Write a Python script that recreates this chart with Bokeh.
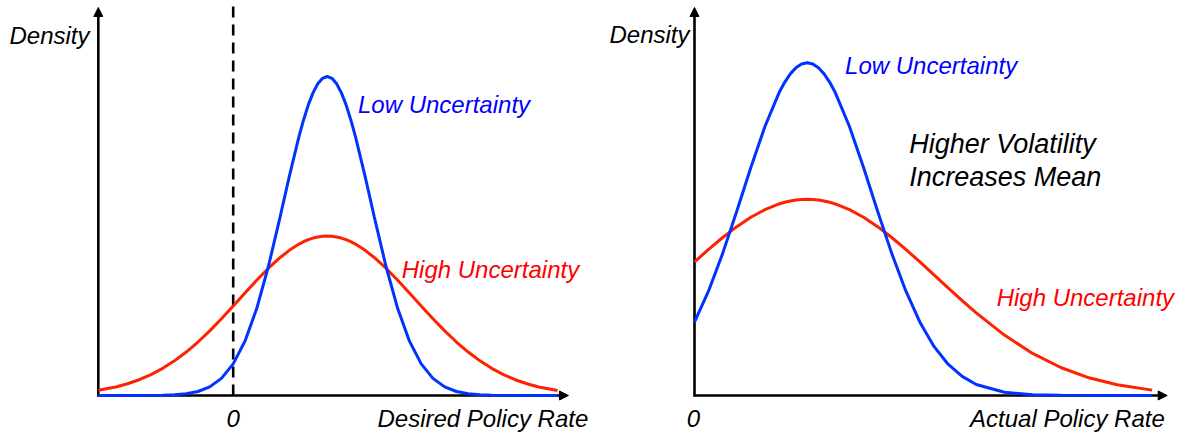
from bokeh.plotting import figure
from bokeh.models import Range1d, Label, Arrow, NormalHead
from bokeh.layouts import row
from bokeh.embed import file_html
from bokeh.resources import INLINE

# ---------------- data ----------------
# Left panel: desired policy rate (0 marked by dashed line)
left_rate = [-2.87, -2.5, -2.25, -2.0, -1.75, -1.5, -1.25, -1.0, -0.75, -0.5, -0.25, 0.0,
             0.25, 0.5, 0.75, 1.0, 1.2, 1.4, 1.5, 1.6, 1.7, 1.8, 1.9, 2.0, 2.1, 2.2, 2.3,
             2.4, 2.5, 2.6, 2.8, 3.0, 3.25, 3.5, 3.75, 4.0, 4.25, 4.5, 4.75, 5.0, 5.25,
             5.5, 5.75, 6.0, 6.25, 6.5, 6.9]
left_low = [0.0000, 0.0000, 0.0000, 0.0001, 0.0003, 0.0008, 0.0022, 0.0055, 0.0126, 0.0270,
            0.0536, 0.0990, 0.1703, 0.2724, 0.4052, 0.5610, 0.6907, 0.8121, 0.8654, 0.9117,
            0.9493, 0.9771, 0.9942, 1.0000, 0.9942, 0.9771, 0.9493, 0.9117, 0.8654, 0.8121,
            0.6907, 0.5610, 0.4052, 0.2724, 0.1703, 0.0990, 0.0536, 0.0270, 0.0126, 0.0055,
            0.0022, 0.0008, 0.0003, 0.0001, 0.0000, 0.0000, 0.0000]
left_high = [0.0162, 0.0268, 0.0368, 0.0495, 0.0655, 0.0852, 0.1086, 0.1362, 0.1676, 0.2026,
             0.2406, 0.2805, 0.3212, 0.3612, 0.3990, 0.4327, 0.4558, 0.4746, 0.4822, 0.4886,
             0.4935, 0.4971, 0.4993, 0.5000, 0.4993, 0.4971, 0.4935, 0.4886, 0.4822, 0.4746,
             0.4558, 0.4327, 0.3990, 0.3612, 0.3212, 0.2805, 0.2406, 0.2026, 0.1676, 0.1362,
             0.1086, 0.0852, 0.0655, 0.0495, 0.0368, 0.0268, 0.0156]
left_axis_start = -2.87
left_axis_end = 7.134
zero_rate = 0.0

# Right panel: actual policy rate (truncated at 0)
right_rate = [0.0, 0.25, 0.5, 0.75, 1.0, 1.25, 1.5, 1.6, 1.7, 1.8, 1.9, 2.0, 2.1, 2.2, 2.3,
              2.4, 2.5, 2.75, 3.0, 3.25, 3.5, 3.75, 4.0, 4.25, 4.5, 4.75, 5.0, 5.5, 6.0, 6.5,
              7.0, 7.5, 8.12]
right_low = [0.2299, 0.3277, 0.4455, 0.5777, 0.7147, 0.8432, 0.9489, 0.9818, 1.0082, 1.0273,
             1.0391, 1.0430, 1.0391, 1.0273, 1.0082, 0.9818, 0.9489, 0.8432, 0.7147, 0.5777,
             0.4455, 0.3277, 0.2299, 0.1538, 0.0981, 0.0598, 0.0347, 0.0102, 0.0025, 0.0005,
             0.0001, 0.0000, 0.0000]
right_high = [0.4186, 0.4581, 0.4953, 0.5292, 0.5586, 0.5826, 0.6004, 0.6056, 0.6097, 0.6126,
              0.6144, 0.6150, 0.6144, 0.6126, 0.6097, 0.6056, 0.6004, 0.5826, 0.5586, 0.5292,
              0.4953, 0.4581, 0.4186, 0.3779, 0.3371, 0.2972, 0.2588, 0.1893, 0.1320, 0.0877,
              0.0555, 0.0335, 0.0168]
right_axis_start = 0.0
right_axis_end = 8.389

density_top = 1.2163
dash_top = 1.2226

# ---------------- styling ----------------
BLUE_LINE = "#0033FF"
RED_LINE = "#FF2200"
BLUE_TEXT = "#0000FF"
RED_TEXT = "#FF0000"
FONT = "Liberation Sans"
H = 436
Y_START, Y_END = -0.12853, 1.23824
DY = 0.0251  # label baseline correction


def make_fig(width, xs, xe):
    p = figure(width=width, height=H, x_range=Range1d(xs, xe), y_range=Range1d(Y_START, Y_END),
               output_backend="svg", toolbar_location=None, min_border=0,
               x_axis_location=None, y_axis_location=None, title=None)
    p.grid.visible = False
    p.outline_line_color = None
    p.background_fill_color = "white"
    p.border_fill_color = "white"
    return p


def add_axes(p, x0, x1):
    for (xa, ya, xb, yb) in [(x0, -0.004, x0, density_top), (x0, 0.0, x1, 0.0)]:
        p.add_layout(Arrow(end=NormalHead(size=9, fill_color="black", line_color="black", line_width=1),
                           x_start=xa, y_start=ya, x_end=xb, y_end=yb,
                           line_color="black", line_width=2.6, level="underlay"))


def add_label(p, x, y, text, color="black", size="24px", align="left"):
    p.add_layout(Label(x=x, y=y + DY, text=text, text_font=FONT, text_font_style="italic",
                       text_font_size=size, text_color=color, text_align=align,
                       text_baseline="alphabetic"))


# ---------------- left panel ----------------
p1 = make_fig(598, -4.9511, 7.7723)
add_axes(p1, left_axis_start, left_axis_end)
p1.segment(x0=[zero_rate], y0=[0.0], x1=[zero_rate], y1=[dash_top], line_color="black",
           line_width=2.6, line_dash="11 7")
p1.line(left_rate, left_high, line_color=RED_LINE, line_width=3)
p1.line(left_rate, left_low, line_color=BLUE_LINE, line_width=3)

add_label(p1, -4.76, 1.1019, "Density")
add_label(p1, 0.0, -0.0987, "0", align="center")
add_label(p1, 3.07, -0.0987, "Desired Policy Rate")
add_label(p1, 2.655, 0.888, "Low Uncertainty", color=BLUE_TEXT)
add_label(p1, 3.586, 0.3708, "High Uncertainty", color=RED_TEXT)

# ---------------- right panel ----------------
p2 = make_fig(582, -1.7036, 8.6247)
add_axes(p2, right_axis_start, right_axis_end)
p2.line(right_rate, right_high, line_color=RED_LINE, line_width=3)
p2.line(right_rate, right_low, line_color=BLUE_LINE, line_width=3)

add_label(p2, -1.509, 1.1075, "Density")
add_label(p2, -0.018, -0.0987, "0", align="center")
add_label(p2, 4.89, -0.0987, "Actual Policy Rate")
add_label(p2, 2.672, 1.0085, "Low Uncertainty", color=BLUE_TEXT)
add_label(p2, 3.81, 0.7627, "Higher Volatility", size="27px")
add_label(p2, 3.81, 0.6583, "Increases Mean", size="27px")
add_label(p2, 5.362, 0.2821, "High Uncertainty", color=RED_TEXT)

layout = row(p1, p2)
open("out.html", "w").write(file_html(layout, INLINE))
